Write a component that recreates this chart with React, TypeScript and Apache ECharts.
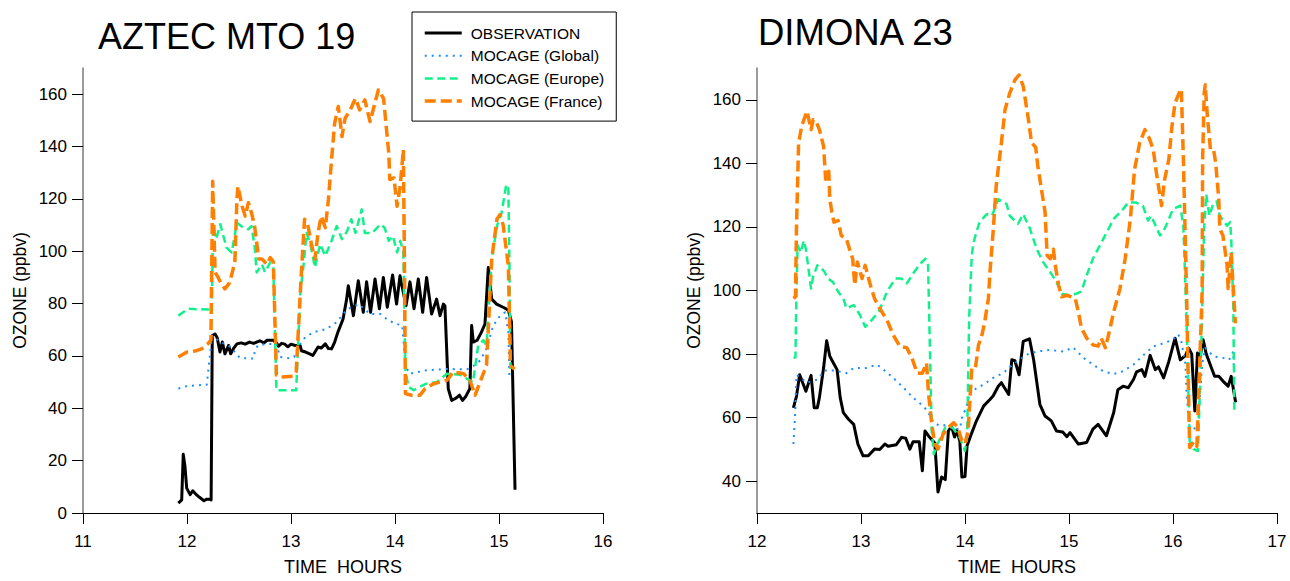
import React, { useEffect, useRef } from "react";
import * as echarts from "echarts";

// ---- AZTEC MTO 19 (left panel): [time in hours, ozone ppbv]
const aztecObservation: [number, number][] = [
  [11.917, 3.8], [11.949, 5], [11.964, 22.4], [11.98, 18], [11.997, 9.5], [12.03, 7], [12.055, 8.5], [12.09, 7], [12.12, 6],
  [12.163, 4.7], [12.19, 5.3], [12.215, 5.3], [12.232, 5], [12.243, 67.8], [12.27, 68.4], [12.29, 67], [12.317, 61.5],
  [12.34, 65.3], [12.365, 60.8], [12.4, 64], [12.42, 60.8], [12.45, 63], [12.48, 64.6], [12.52, 65], [12.56, 64.5],
  [12.6, 65.3], [12.64, 64.8], [12.7, 65.8], [12.74, 65], [12.77, 66], [12.83, 66], [12.86, 65], [12.88, 63.7],
  [12.91, 64.8], [12.94, 64.5], [12.97, 63.5], [13.0, 64.5], [13.04, 64], [13.087, 64], [13.1, 62], [13.14, 61.5],
  [13.18, 60.8], [13.21, 60.2], [13.26, 63.4], [13.29, 63], [13.33, 64.6], [13.36, 62.8], [13.39, 62.7], [13.42, 65.3],
  [13.45, 69], [13.5, 74], [13.535, 81.7], [13.551, 86.8], [13.6, 75.4], [13.647, 88.7], [13.695, 76.7], [13.727, 88.3],
  [13.765, 76.7], [13.808, 89.4], [13.85, 78], [13.888, 90], [13.926, 78.6], [13.977, 90.9], [14.015, 79.8], [14.048, 90.6],
  [14.106, 79.2], [14.144, 88.3], [14.183, 78], [14.224, 89.4], [14.266, 76.7], [14.304, 90], [14.352, 76], [14.4, 81.7],
  [14.433, 75.4], [14.465, 79.8], [14.48, 79.2], [14.512, 47.5], [14.545, 43], [14.59, 44], [14.62, 45], [14.65, 43],
  [14.68, 44.5], [14.72, 47.5], [14.737, 71.6], [14.753, 65.3], [14.79, 66], [14.83, 69], [14.865, 72.2], [14.897, 93.8],
  [14.93, 81.7], [14.977, 79.8], [15.04, 78.6], [15.09, 77.5], [15.12, 73], [15.154, 8.9],
];
const aztecGlobal: [number, number][] = [
  [11.917, 47.5], [12.0, 48.5], [12.19, 49], [12.22, 60], [12.24, 67.8], [12.32, 65.3], [12.4, 64], [12.46, 61.5],
  [12.51, 59.2], [12.64, 59], [12.65, 61.5], [12.68, 64], [12.77, 64.6], [12.86, 64.6], [12.894, 59.6], [13.0, 59],
  [13.03, 59.6], [13.06, 62.7], [13.12, 66.5], [13.21, 69], [13.34, 70.3], [13.44, 72.9], [13.5, 76], [13.55, 78],
  [13.65, 79.8], [13.76, 76], [13.86, 76], [13.94, 73.5], [14.02, 72.2], [14.07, 71.6], [14.1, 56.4], [14.14, 53.2],
  [14.3, 54.5], [14.5, 55], [14.69, 54.9], [14.75, 56], [14.82, 58.3], [14.88, 62.7], [14.945, 71.6], [15.01, 75.4],
  [15.06, 76.7], [15.09, 69], [15.1, 52],
];
const aztecEurope: [number, number][] = [
  [11.917, 75.4], [12.01, 78], [12.22, 77.7], [12.237, 76.8], [12.25, 109.6], [12.28, 104.6], [12.32, 110.3], [12.38, 101.4],
  [12.43, 99.5], [12.48, 110.9], [12.54, 109], [12.59, 108.4], [12.62, 109.6], [12.65, 102], [12.67, 91.9], [12.72, 95],
  [12.75, 92], [12.8, 95.7], [12.83, 94], [12.86, 46.9], [13.05, 46.9], [13.09, 84.4], [13.12, 94.4], [13.15, 107],
  [13.19, 102], [13.23, 93.8], [13.28, 102.7], [13.33, 98.2], [13.39, 104], [13.44, 109.6], [13.49, 104.6], [13.54, 107.7],
  [13.58, 112.2], [13.62, 107], [13.68, 116], [13.71, 107], [13.78, 107], [13.86, 110.3], [13.9, 109], [13.94, 104],
  [13.98, 105.8], [14.02, 99.5], [14.05, 104], [14.08, 100], [14.1, 54.5], [14.13, 48.2], [14.18, 46.9], [14.24, 48.2],
  [14.3, 49.4], [14.4, 50], [14.5, 53.2], [14.625, 52.8], [14.69, 51.3], [14.75, 50], [14.8, 64], [14.85, 66], [14.88, 64],
  [14.93, 97], [14.98, 109.6], [15.025, 114.7], [15.07, 125.5], [15.09, 124], [15.1, 97], [15.11, 55],
];
const aztecFrance: [number, number][] = [
  [11.917, 59.6], [12.0, 61.5], [12.09, 62], [12.14, 62.7], [12.2, 64.6], [12.23, 66], [12.247, 126.7], [12.27, 91.9],
  [12.3, 90], [12.33, 87.5], [12.365, 85.6], [12.41, 88], [12.46, 95.7], [12.48, 119.8], [12.49, 124.8], [12.53, 117.2],
  [12.56, 113.4], [12.59, 118.5], [12.62, 114.7], [12.65, 109.6], [12.69, 97], [12.72, 97], [12.77, 95], [12.8, 97.6],
  [12.83, 96], [12.86, 52.6], [12.92, 52], [13.02, 52.3], [13.05, 54], [13.1, 92], [13.13, 112.2], [13.16, 110.3],
  [13.2, 102], [13.23, 97], [13.26, 107], [13.29, 113.4], [13.33, 109], [13.36, 119.8], [13.39, 135], [13.42, 149],
  [13.455, 155.3], [13.49, 143.8], [13.52, 150.8], [13.57, 154], [13.62, 158.4], [13.66, 154], [13.71, 157.8],
  [13.76, 149.5], [13.79, 154], [13.84, 161.6], [13.89, 158.4], [13.94, 137.5], [13.95, 127.4], [13.99, 128],
  [14.02, 117.2], [14.05, 124.8], [14.08, 138.8], [14.09, 100], [14.1, 45.6], [14.16, 45], [14.24, 45], [14.29, 47.5],
  [14.37, 49.4], [14.5, 50.7], [14.56, 53.9], [14.66, 53.2], [14.72, 50.7], [14.77, 45], [14.83, 51.3], [14.88, 56.4],
  [14.93, 97], [14.98, 112.2], [15.01, 114], [15.04, 110], [15.09, 94.4], [15.11, 56.4], [15.15, 54.9],
];

// ---- DIMONA 23 (right panel)
const dimonaObservation: [number, number][] = [
  [12.35, 63.1], [12.38, 66.8], [12.41, 73.5], [12.43, 71.8], [12.47, 68.3], [12.52, 73.3], [12.55, 63.1], [12.58, 63.1],
  [12.6, 66.3], [12.64, 75.6], [12.67, 84.2], [12.7, 79.3], [12.74, 76.9], [12.77, 75.1], [12.8, 66.3], [12.83, 61.6],
  [12.88, 59.5], [12.93, 57.9], [12.97, 51.7], [13.02, 48], [13.07, 48], [13.13, 50.1], [13.18, 50], [13.23, 51.7],
  [13.26, 51], [13.34, 51.5], [13.39, 53.8], [13.43, 53.5], [13.47, 50.1], [13.5, 52.4], [13.56, 52.4], [13.59, 43.3],
  [13.615, 55.8], [13.66, 53.8], [13.71, 52], [13.74, 36.6], [13.775, 41.3], [13.81, 40.5], [13.84, 55.8], [13.87, 57.3],
  [13.9, 53.9], [13.92, 56], [13.95, 52.7], [13.97, 41.3], [14.0, 41.5], [14.02, 51.2], [14.06, 54.8], [14.11, 59],
  [14.18, 63.7], [14.24, 65.7], [14.27, 66.8], [14.32, 69.9], [14.35, 71], [14.42, 67.3], [14.45, 78.2], [14.48, 77.9],
  [14.52, 73.5], [14.56, 84], [14.62, 84.8], [14.66, 78.2], [14.72, 64.2], [14.77, 60.5], [14.83, 59], [14.88, 55.8],
  [14.94, 55.5], [14.98, 54], [15.01, 55.3], [15.09, 51.7], [15.17, 52.2], [15.23, 56.4], [15.28, 57.9], [15.36, 54.3],
  [15.43, 61.6], [15.47, 68.8], [15.52, 69.9], [15.57, 69.4], [15.62, 72], [15.65, 74.4], [15.7, 75.1], [15.73, 73],
  [15.78, 79.6], [15.83, 75.1], [15.86, 76], [15.91, 72.5], [15.96, 77.7], [16.02, 85], [16.07, 78.2], [16.12, 79.5],
  [16.15, 81.9], [16.18, 80], [16.21, 62.1], [16.235, 80.3], [16.26, 79], [16.29, 84.5], [16.32, 80], [16.37, 75.6],
  [16.4, 73], [16.44, 73], [16.48, 71.5], [16.53, 69.9], [16.56, 73], [16.6, 65.2], [16.61, 65.5],
];
const dimonaGlobal: [number, number][] = [
  [12.35, 51.7], [12.365, 60], [12.38, 73.5], [12.48, 71], [12.58, 72], [12.65, 74.8], [12.75, 74.8], [12.86, 74],
  [12.93, 75.6], [13.05, 75.6], [13.15, 76.7], [13.2, 75.6], [13.31, 72.5], [13.41, 69.4], [13.5, 66.3], [13.6, 63.6],
  [13.64, 62], [13.7, 58.4], [13.76, 57.4], [13.82, 57.7], [13.88, 56.7], [13.95, 56.4], [13.98, 61.3], [14.01, 62.6],
  [14.05, 68.5], [14.08, 68.3], [14.11, 69.3], [14.18, 70.4], [14.27, 72.5], [14.37, 74.1], [14.46, 76.7], [14.59, 79.8],
  [14.69, 80.8], [14.82, 81.3], [14.95, 80.8], [15.04, 82.1], [15.14, 78.8], [15.23, 76.7], [15.33, 74.6], [15.43, 73.7],
  [15.52, 74.6], [15.62, 76.7], [15.72, 79.8], [15.81, 82.4], [15.91, 83.4], [16.0, 84.5], [16.05, 86.2], [16.08, 84],
  [16.12, 76.7], [16.13, 67.3], [16.16, 56.9], [16.21, 56.6], [16.24, 57], [16.26, 67.3], [16.28, 76.7], [16.31, 81.9],
  [16.39, 79.3], [16.48, 78.8], [16.54, 78.2], [16.58, 80.8], [16.59, 72],
];
const dimonaEurope: [number, number][] = [
  [12.35, 78.8], [12.37, 79], [12.375, 91.25], [12.39, 114.2], [12.42, 112], [12.45, 115.7], [12.47, 113], [12.52, 100.6],
  [12.54, 104.4], [12.58, 107.9], [12.62, 107], [12.65, 105.8], [12.68, 103.8], [12.73, 102.7], [12.78, 99.6], [12.83, 97.5],
  [12.86, 94.4], [12.93, 95.4], [12.99, 92.3], [13.04, 88.6], [13.09, 90.2], [13.15, 92.5], [13.18, 94], [13.25, 99.6],
  [13.33, 103.75], [13.39, 103.75], [13.44, 102.2], [13.5, 105.3], [13.57, 108.4], [13.62, 110], [13.645, 108],
  [13.68, 55.8], [13.7, 48.5], [13.74, 52], [13.81, 56.9], [13.88, 56.9], [13.95, 53.75], [14.0, 49.6], [14.02, 53.7],
  [14.04, 91.25], [14.065, 111], [14.08, 114.7], [14.1, 117.3], [14.14, 121.5], [14.21, 124], [14.26, 123.5],
  [14.32, 128.75], [14.4, 127.2], [14.43, 123.5], [14.51, 121], [14.56, 124], [14.625, 119.4], [14.69, 113], [14.75, 109],
  [14.82, 105.8], [14.88, 102.7], [14.93, 99], [15.01, 98.5], [15.07, 99], [15.12, 99.7], [15.17, 104.8], [15.23, 110],
  [15.33, 116.25], [15.43, 122.5], [15.52, 125.6], [15.57, 127.7], [15.64, 127.7], [15.71, 126.7], [15.76, 122],
  [15.79, 123.5], [15.875, 117.3], [15.92, 119.4], [16.0, 125.6], [16.07, 126.7], [16.1, 120], [16.13, 91.25],
  [16.16, 52.7], [16.2, 50.1], [16.24, 49.5], [16.27, 80], [16.3, 120], [16.32, 130.3], [16.35, 123.5], [16.39, 127.7],
  [16.42, 128], [16.45, 123.5], [16.52, 120.4], [16.55, 121.5], [16.56, 116.25], [16.58, 95], [16.59, 61.6],
];
const dimonaFrance: [number, number][] = [
  [12.35, 97.5], [12.37, 98], [12.38, 120.4], [12.4, 146.5], [12.43, 151.7], [12.48, 156.4], [12.52, 150.6], [12.54, 153.75],
  [12.57, 153], [12.6, 150.6], [12.64, 145.4], [12.66, 135], [12.69, 137.5], [12.7, 128.75], [12.72, 124.6], [12.74, 121.5],
  [12.78, 122], [12.81, 117.3], [12.86, 116.25], [12.89, 113], [12.92, 110], [12.94, 101.7], [12.965, 109], [13.01, 103.75],
  [13.04, 107.9], [13.09, 101.7], [13.13, 97.5], [13.18, 94.4], [13.25, 90.7], [13.31, 86], [13.375, 82.4], [13.44, 82],
  [13.49, 78.75], [13.54, 74], [13.59, 74], [13.63, 77.2], [13.65, 67.3], [13.68, 57.9], [13.71, 51.7], [13.74, 50.1],
  [13.79, 54.8], [13.84, 56.9], [13.89, 58.4], [13.93, 56.9], [13.97, 52.7], [14.0, 51.7], [14.03, 55.8], [14.065, 75.6],
  [14.1, 75.6], [14.13, 82.9], [14.16, 85.6], [14.19, 90.2], [14.225, 97.5], [14.24, 105.8], [14.27, 118.3], [14.3, 132.9],
  [14.35, 146.5], [14.385, 156.9], [14.43, 162.1], [14.48, 166.25], [14.52, 167.8], [14.56, 164.2], [14.61, 153.75],
  [14.64, 146.5], [14.68, 145], [14.7, 139.2], [14.74, 130.8], [14.77, 124.6], [14.79, 111], [14.82, 110], [14.85, 113],
  [14.87, 107.5], [14.9, 101.7], [14.93, 98], [14.98, 98.5], [15.06, 97.5], [15.09, 93.3], [15.12, 88.1], [15.17, 85],
  [15.23, 82.9], [15.28, 82.5], [15.31, 85], [15.35, 82], [15.38, 86], [15.43, 93.3], [15.49, 100.6], [15.54, 110],
  [15.59, 122.5], [15.63, 138], [15.68, 146.5], [15.73, 150.6], [15.77, 148], [15.81, 144.4], [15.84, 137.1],
  [15.875, 129.8], [15.89, 126.7], [15.92, 135], [15.96, 141.25], [15.99, 151.7], [16.02, 159], [16.07, 163.1],
  [16.08, 163.4], [16.1, 141], [16.13, 99.6], [16.16, 50.6], [16.2, 52.4], [16.23, 51], [16.28, 99.6], [16.285, 141.25],
  [16.3, 162.1], [16.31, 164.7], [16.33, 155], [16.36, 144.4], [16.39, 144.4], [16.41, 140.2], [16.44, 128.75],
  [16.45, 119.4], [16.48, 117.3], [16.52, 108], [16.53, 100.6], [16.56, 112], [16.57, 105.8], [16.6, 89.7],
];

const titles = ["AZTEC MTO 19", "DIMONA 23"];
const seriesNames = ["OBSERVATION", "MOCAGE (Global)", "MOCAGE (Europe)", "MOCAGE (France)"];
const leftYTicks = [0, 20, 40, 60, 80, 100, 120, 140, 160];
const rightYTicks = [40, 60, 80, 100, 120, 140, 160];
const leftXTicks = [11, 12, 13, 14, 15, 16];
const rightXTicks = [12, 13, 14, 15, 16, 17];

const FONT = "'Liberation Sans', Arial, Helvetica, sans-serif";

const styles = [
  { color: "#000000", width: 3, type: "solid" as any },
  { color: "#1E8CFF", width: 2, type: [2, 5] as any },
  { color: "#12F08A", width: 2.5, type: [8, 4.5] as any },
  { color: "#FF7F00", width: 3.5, type: [11, 5] as any },
];

function makeX(gridIndex: number, min: number, max: number, ticks: number[]) {
  return {
    type: "value",
    gridIndex,
    min,
    max,
    interval: 1,
    name: "TIME  HOURS",
    nameLocation: "middle",
    nameGap: 45,
    nameTextStyle: { fontSize: 18, color: "#000", fontFamily: FONT },
    axisLine: { show: true, onZero: false, lineStyle: { color: "#000", width: 1 } },
    axisTick: { show: true, inside: false, length: 11, customValues: ticks, lineStyle: { color: "#000", width: 1 } },
    axisLabel: { show: true, fontSize: 17, color: "#000", margin: 20, fontFamily: FONT, customValues: ticks },
    splitLine: { show: false },
  };
}

function makeY(gridIndex: number, min: number, max: number, ticks: number[]) {
  return {
    type: "value",
    gridIndex,
    min,
    max,
    interval: 20,
    name: "OZONE (ppbv)",
    nameLocation: "middle",
    nameGap: 54,
    nameTextStyle: { fontSize: 17.5, color: "#000", fontFamily: FONT },
    axisLine: { show: true, onZero: false, lineStyle: { color: "#7a7a7a", width: 1.5 } },
    axisTick: { show: true, inside: false, length: 11, customValues: ticks, lineStyle: { color: "#000", width: 1 } },
    axisLabel: { show: true, fontSize: 17, color: "#000", margin: 16, fontFamily: FONT, customValues: ticks },
    splitLine: { show: false },
  };
}

function makeSeries(name: string, idx: number, data: [number, number][], axis: number) {
  const s = styles[idx];
  return {
    name,
    type: "line",
    xAxisIndex: axis,
    yAxisIndex: axis,
    data,
    symbol: "none",
    showSymbol: false,
    smooth: false,
    z: 2 + idx,
    lineStyle: { color: s.color, width: s.width, type: s.type, cap: "butt", join: "round" },
    itemStyle: { color: s.color },
  };
}

export default function App() {
  const ref = useRef<HTMLDivElement>(null);
  useEffect(() => {
    if (!ref.current) return;
    const chart = echarts.init(ref.current, undefined, { renderer: "svg" });
    const option: any = {
      animation: false,
      backgroundColor: "#ffffff",
      textStyle: { fontFamily: FONT },
      title: [
        { text: titles[0], left: 98, top: 18, padding: 0, textStyle: { fontSize: 36, fontWeight: "normal", color: "#000", fontFamily: FONT } },
        { text: titles[1], left: 758, top: 14, padding: 0, textStyle: { fontSize: 36.5, fontWeight: "normal", color: "#000", fontFamily: FONT } },
      ],
      legend: {
        data: seriesNames.map((name, i) => ({
          name,
          lineStyle: { color: styles[i].color, width: styles[i].width, type: styles[i].type },
        })),
        orient: "vertical",
        left: 412,
        top: 12,
        padding: [13, 12, 12, 11],
        borderColor: "#000",
        borderWidth: 1,
        itemWidth: 37,
        itemHeight: 16,
        itemGap: 6.7,
        selectedMode: false,
        itemStyle: { opacity: 0, color: "transparent", borderWidth: 0 },
        textStyle: { fontSize: 15.5, color: "#000", fontFamily: FONT, padding: [0, 0, 0, 4] },
      },
      grid: [
        { left: 83, top: 68, width: 520, height: 447, containLabel: false },
        { left: 757, top: 68, width: 520, height: 447, containLabel: false },
      ],
      xAxis: [makeX(0, 11, 16, leftXTicks), makeX(1, 12, 17, rightXTicks)],
      yAxis: [makeY(0, 0, 170, leftYTicks), makeY(1, 30, 170, rightYTicks)],
      series: [
        makeSeries(seriesNames[0], 0, aztecObservation, 0),
        makeSeries(seriesNames[1], 1, aztecGlobal, 0),
        makeSeries(seriesNames[2], 2, aztecEurope, 0),
        makeSeries(seriesNames[3], 3, aztecFrance, 0),
        makeSeries(seriesNames[0], 0, dimonaObservation, 1),
        makeSeries(seriesNames[1], 1, dimonaGlobal, 1),
        makeSeries(seriesNames[2], 2, dimonaEurope, 1),
        makeSeries(seriesNames[3], 3, dimonaFrance, 1),
      ],
    };
    chart.setOption(option);
    return () => chart.dispose();
  }, []);
  return (
    <div
      ref={ref}
      style={{ position: "fixed", left: 0, top: 0, width: 1290, height: 581, background: "#fff" }}
    />
  );
}
